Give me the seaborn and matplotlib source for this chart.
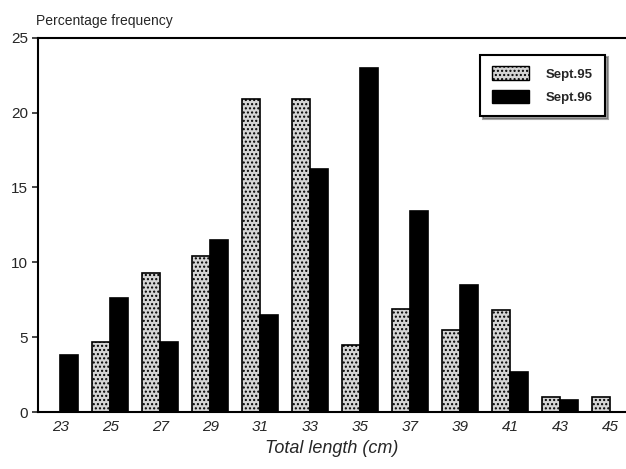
import pandas as pd
import matplotlib
matplotlib.use("Agg")
import matplotlib.pyplot as plt
import seaborn as sns

# Werte
lengths = ["23", "25", "27", "29", "31", "33", "35", "37", "39", "41", "43", "45"]
sept95 = [0.0, 4.7, 9.3, 10.4, 20.9, 20.9, 4.5, 6.9, 5.5, 6.8, 1.0, 1.0]
sept96 = [3.8, 7.6, 4.7, 11.5, 6.5, 16.2, 23.0, 13.4, 8.5, 2.7, 0.8, 0.0]
series_names = ["Sept.95", "Sept.96"]

df = pd.DataFrame({
    "length": lengths * 2,
    "freq": sept95 + sept96,
    "series": [series_names[0]] * len(lengths) + [series_names[1]] * len(lengths),
})

sns.set_style("white")
plt.rcParams["font.family"] = ["Liberation Sans", "DejaVu Sans"]

fig = plt.figure(figsize=(6.26, 4.69), dpi=100)
ax = fig.add_axes([0.061, 0.1215, 0.939, 0.798])

sns.barplot(
    data=df, x="length", y="freq", hue="series", order=lengths,
    hue_order=series_names, palette=["#d4d4d4", "black"],
    width=0.72, edgecolor="black", linewidth=1.2, ax=ax, legend=False,
)

# Punktraster fuer Sept.95
for bar in ax.containers[0]:
    bar.set_hatch("....")

ax.set_xlim(-0.44, 11.32)
ax.set_ylim(0, 25)
ax.set_yticks([0, 5, 10, 15, 20, 25])
ax.tick_params(axis="y", length=4, width=1.2, direction="out", left=True, labelsize=11)
ax.tick_params(axis="x", length=0, labelsize=11, pad=6)
for lab in ax.get_xticklabels():
    lab.set_style("italic")

for side in ["left", "top", "bottom"]:
    ax.spines[side].set_linewidth(1.5)
    ax.spines[side].set_color("black")
ax.spines["right"].set_visible(False)

ax.set_ylabel("")
ax.set_xlabel("Total length (cm)", fontsize=13, style="italic", labelpad=4)
fig.text(0.058, 0.94, "Percentage frequency", fontsize=10, ha="left", va="bottom")

handles = [
    plt.Rectangle((0, 0), 1, 1, facecolor="#d4d4d4", edgecolor="black", hatch="...."),
    plt.Rectangle((0, 0), 1, 1, facecolor="black", edgecolor="black"),
]
leg = ax.legend(
    handles, series_names, loc="upper right", bbox_to_anchor=(0.964, 0.955),
    frameon=True, shadow=True, fancybox=False, prop={"weight": "bold", "size": 9.5},
    handlelength=2.8, handleheight=1.2, borderpad=0.9, labelspacing=0.7,
    handletextpad=1.3, borderaxespad=0,
)
leg.get_frame().set_edgecolor("black")
leg.get_frame().set_linewidth(1.5)

fig.savefig("out.png", dpi=100)
